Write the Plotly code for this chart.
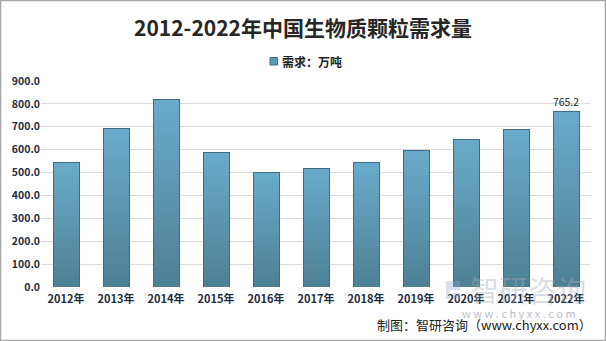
import numpy as np
import plotly.graph_objects as go

# 2012-2022 China biomass pellet demand (10k tonnes)
years = ["2012年", "2013年", "2014年", "2015年", "2016年", "2017年",
         "2018年", "2019年", "2020年", "2021年", "2022年"]
demand = [545.0, 694.0, 821.0, 589.0, 502.0, 519.0,
          545.0, 598.0, 646.0, 690.0, 765.2]
series_name = "需求：万吨"
title_text = "2012-2022年中国生物质颗粒需求量"
source_text = "制图：智研咨询（www.chyxx.com）"

W, H = 606, 341
ML, MR, MT, MB = 41, 15, 81, 54
PW, PH = W - ML - MR, H - MT - MB

FONT = "Noto Sans CJK SC"
BAR_W = 0.52

def px_x(x):
    return (x - ML) / PW

def px_y(y):
    return (H - MB - y) / PH

def lerp(c0, c1, t):
    return "#%02x%02x%02x" % tuple(round(a + (b - a) * t) for a, b in zip(c0, c1))

bottom_rgb = (0x4e, 0x80, 0x95)
top_rgb = (0x69, 0xab, 0xcb)

vals = np.array(demand)
n_slices = 28

fig = go.Figure()

# each bar is filled as a vertical gradient: stacked slices, dark at the base, light at the top
for k in range(n_slices):
    fig.add_trace(go.Bar(
        x=years, y=vals / n_slices, width=BAR_W,
        marker=dict(color=lerp(bottom_rgb, top_rgb, (k + 0.5) / n_slices), line=dict(width=0)),
        name=series_name, showlegend=False, hoverinfo="skip",
    ))

# outline of each bar, plus the value label on the last year
labels = ["" for _ in demand[:-1]] + [f"{demand[-1]:.1f}"]
fig.add_trace(go.Bar(
    x=years, y=demand, width=BAR_W, xaxis="x2",
    marker=dict(color="rgba(0,0,0,0)", line=dict(color="#3f6c80", width=1)),
    text=labels, textposition="outside", cliponaxis=False,
    textfont=dict(family=FONT, size=12.5, color="#222222"),
    name=series_name, showlegend=False,
))

fig.update_layout(
    width=W, height=H,
    margin=dict(l=ML, r=MR, t=MT, b=MB),
    paper_bgcolor="white", plot_bgcolor="white",
    barmode="stack", bargap=0.48,
    title=dict(text=f"<b>{title_text}</b>", x=0.5, xanchor="center",
               y=1 - 29 / H, yanchor="middle",
               font=dict(family=FONT, size=21, color="#262626")),
    xaxis=dict(type="category", categoryorder="array", categoryarray=years,
               showgrid=False, zeroline=False, showline=False, ticks="",
               tickprefix="<b>", ticksuffix="</b>",
               tickfont=dict(family=FONT, size=11, color="#1f2d3d"),
               ticklabelstandoff=4),
    xaxis2=dict(type="category", categoryorder="array", categoryarray=years,
                overlaying="x", matches="x", visible=False),
    yaxis=dict(range=[0, 900], dtick=100, tickformat=".1f",
               showgrid=True, gridcolor="#d9d9d9", gridwidth=1,
               zeroline=False, showline=False, ticks="",
               tickprefix="<b>", ticksuffix="</b>",
               tickfont=dict(family=FONT, size=10.5, color="#1f2d3d")),
    font=dict(family=FONT),
    showlegend=False,
)

# legend: small swatch followed by the series name
fig.add_shape(type="rect", xref="paper", yref="paper",
              x0=px_x(270), x1=px_x(277.5), y0=px_y(65), y1=px_y(57.5),
              fillcolor="#5b98b4", line=dict(color="#3f6c80", width=1))
fig.add_annotation(text=f"<b>{series_name}</b>", xref="paper", yref="paper",
                   x=px_x(280), y=px_y(61), xanchor="left", yanchor="middle",
                   showarrow=False, font=dict(family=FONT, size=12, color="#222222"))

# outer frame of the chart
fig.add_shape(type="rect", xref="paper", yref="paper",
              x0=px_x(0.5), x1=px_x(W - 0.5), y0=px_y(H - 0.5), y1=px_y(0.5),
              line=dict(color="#a6a6a6", width=1.5), layer="above")

# watermark
fig.add_annotation(text="智研咨询", xref="paper", yref="paper",
                   x=px_x(528), y=px_y(289), xanchor="center", yanchor="middle",
                   showarrow=False,
                   font=dict(family=FONT, size=29, color="rgba(165,172,184,0.42)"))
fig.add_annotation(text="w w w . c h y x x . c o m", xref="paper", yref="paper",
                   x=px_x(519), y=px_y(313), xanchor="center", yanchor="middle",
                   showarrow=False,
                   font=dict(family=FONT, size=11, color="rgba(160,168,180,0.75)"))
fig.add_shape(type="path", xref="paper", yref="paper",
              path=(f"M {px_x(446)} {px_y(281)} L {px_x(460)} {px_y(281)} L {px_x(460)} {px_y(290)} "
                    f"L {px_x(450)} {px_y(290)} L {px_x(450)} {px_y(299)} L {px_x(446)} {px_y(299)} Z"),
              fillcolor="rgba(150,170,200,0.35)", line=dict(width=0), layer="above")
fig.add_shape(type="rect", xref="paper", yref="paper",
              x0=px_x(453), x1=px_x(460), y0=px_y(299), y1=px_y(293),
              fillcolor="rgba(150,170,200,0.35)", line=dict(width=0), layer="above")

# source line
fig.add_annotation(text=source_text, xref="paper", yref="paper",
                   x=px_x(594), y=px_y(324), xanchor="right", yanchor="middle",
                   showarrow=False, font=dict(family=FONT, size=13, color="#222222"))

fig.write_html("out.html")
